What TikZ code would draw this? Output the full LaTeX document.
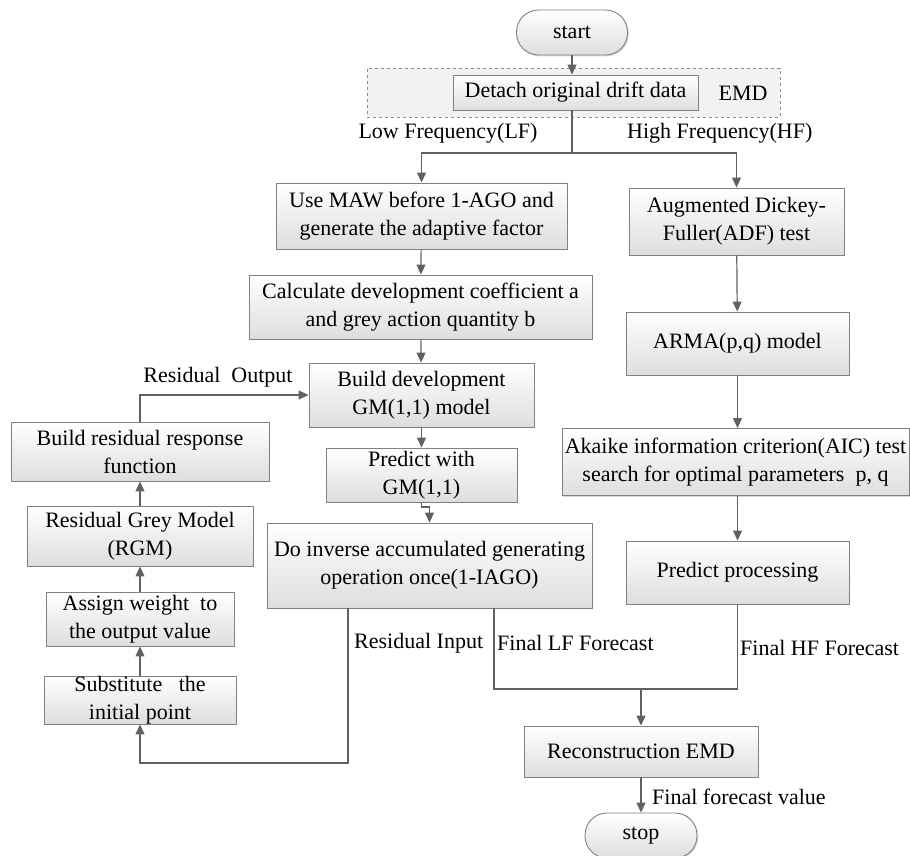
\documentclass[tikz,border=0pt]{standalone}
\usepackage{fontspec}
\setmainfont{Liberation Serif}
\usetikzlibrary{arrows.meta,shadows,calc}
\begin{document}
\begin{tikzpicture}[x=1pt,y=-1pt,
  font=\fontsize{22}{28}\selectfont,
  line/.style={draw=black!62, line width=1.2pt},
  arr/.style={line, -{Triangle[length=10pt,width=9pt]}},
  box/.style={draw=black!50, line width=0.9pt, top color=white, bottom color=black!13,
    drop shadow={shadow xshift=1.3pt, shadow yshift=-1.3pt, fill=black!30, opacity=0.5},
    align=center, inner sep=0pt},
  term/.style={box, rounded corners=22pt},
  lab/.style={inner sep=0pt, align=left}
]
\useasboundingbox (0,0) rectangle (910,855);

% EMD dashed frame
\node[draw=black!45, dashed, fill=black!5, minimum width=413pt, minimum height=49pt, inner sep=0pt] (emdbox) at (573.5,92.5) {};
\node[lab] (emdlab) at (743,93) {EMD};

\node[term, minimum width=111pt, minimum height=45pt] (start) at (572,32.5) {start};
\node[box, minimum width=245pt, minimum height=35pt] (detach) at (575.5,92.5) {Detach original drift data};

\coordinate (split) at (572,153);
\node[lab] (lflab) at (448,133) {Low Frequency(LF)};
\node[lab, anchor=west] (hflab) at (627,133) {High Frequency(HF)};

% low-frequency column
\node[box, minimum width=291pt, minimum height=66pt] (usemaw) at (421.5,216) {Use MAW before 1-AGO and\\generate the adaptive factor};
\node[box, minimum width=343pt, minimum height=64pt] (calc) at (420.5,307) {Calculate development coefficient a\\and grey action quantity b};
\node[box, minimum width=225pt, minimum height=64pt] (build) at (421.5,395) {Build development\\GM(1,1) model};
\node[box, minimum width=191pt, minimum height=54pt] (predict) at (421.5,475) {Predict with\\GM(1,1)};
\node[box, minimum width=325pt, minimum height=85pt] (inverse) at (429.5,565.5) {Do inverse accumulated generating\\operation once(1-IAGO)};

% high-frequency column
\node[box, minimum width=215pt, minimum height=67pt] (adf) at (736.5,221.5) {Augmented Dickey-\\Fuller(ADF) test};
\node[box, minimum width=223pt, minimum height=63pt] (arma) at (737.5,343.5) {ARMA(p,q) model};
\node[box, minimum width=347pt, minimum height=67pt] (aic) at (735.5,462) {Akaike information criterion(AIC) test\\search for optimal parameters\ \ p, q};
\node[box, minimum width=223pt, minimum height=63pt] (predproc) at (737.5,572.5) {Predict processing};

% residual column
\node[box, minimum width=258pt, minimum height=59pt] (resp) at (140,451.5) {Build residual response\\function};
\node[box, minimum width=226pt, minimum height=60pt] (rgm) at (140,536) {Residual Grey Model\\(RGM)};
\node[box, minimum width=188pt, minimum height=54pt] (assign) at (140,619) {Assign weight\ \ to\\the output value};
\node[box, minimum width=192pt, minimum height=48pt] (subst) at (140,700) {Substitute\ \ \ the\\initial point};

% bottom
\node[box, minimum width=234pt, minimum height=51pt] (recon) at (641,751.5) {Reconstruction EMD};
\node[term, minimum width=112pt, minimum height=45pt] (stop) at (641,835.5) {stop};

% labels
\node[lab] (rolab) at (218,377) {Residual\ \ Output};
\node[lab, anchor=west] (rilab) at (354,643) {Residual Input};
\node[lab, anchor=west] (lfflab) at (497,643) {Final LF Forecast};
\node[lab, anchor=west] (hfflab) at (740,648) {Final HF Forecast};
\node[lab, anchor=west] (fvlab) at (652,797) {Final forecast value};

% coordinates
\coordinate (jog) at (421.5,507);
\coordinate (ri) at (348,763);
\coordinate (lf) at (494,689);
\coordinate (mj) at (641,689);

% connectors
\draw[arr] (start.south -| split) -- (detach.north -| split);
\draw[line] (detach.south -| split) -- (split);
\draw[arr] (split) -| (usemaw.north);
\draw[arr] (split) -| (adf.north);
\draw[arr] (usemaw) -- (calc);
\draw[arr] (calc) -- (build);
\draw[arr] (build) -- (predict);
\draw[arr] (predict.south) -- (jog) -| (inverse.north);
\draw[arr] (adf) -- (arma);
\draw[arr] (arma) -- (aic.north -| arma);
\draw[arr] (aic.south -| predproc) -- (predproc);
\draw[arr] (inverse.south -| ri) -- (ri) -| (subst.south);
\draw[arr] (subst) -- (assign);
\draw[arr] (assign) -- (rgm);
\draw[arr] (rgm) -- (resp);
\draw[arr] (resp.north) |- (build.west);
\draw[line] (inverse.south -| lf) -- (lf) -| (predproc.south);
\draw[arr] (mj) -- (recon.north);
\draw[arr] (recon) -- (stop);
\end{tikzpicture}
\end{document}
